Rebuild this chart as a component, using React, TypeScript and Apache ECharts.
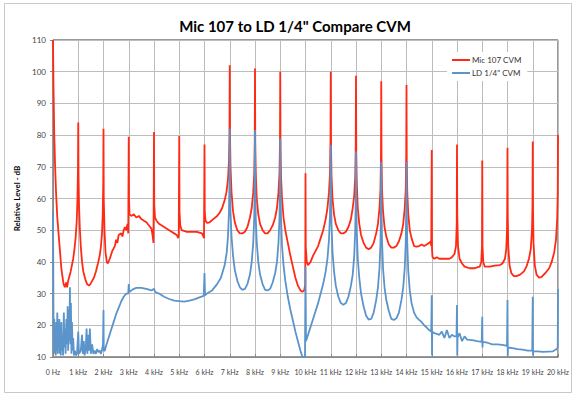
import React, { useEffect, useRef } from "react";
import * as echarts from "echarts";

const title = 'Mic 107 to LD 1/4" Compare CVM';
const yAxisName = "Relative Level - dB";
const seriesNames = ["Mic 107 CVM", "LD 1/4\" CVM"];
const xTicks = [0, 1, 2, 3, 4, 5, 6, 7, 8, 9, 10, 11, 12, 13, 14, 15, 16, 17, 18, 19, 20];

// [frequency kHz, level dB]
const mic107: [number, number][] = [
  [0, 110], [0.02, 95], [0.05, 80], [0.08, 71], [0.12, 62], [0.17, 54], [0.22, 49], [0.28, 43], [0.33, 38],
  [0.38, 35], [0.42, 33], [0.47, 32], [0.52, 33.5], [0.56, 32], [0.6, 34], [0.65, 35.5], [0.7, 37], [0.75, 39],
  [0.8, 41], [0.85, 44], [0.9, 48], [0.94, 53], [0.97, 60], [0.99, 70], [1.0, 84], [1.01, 68], [1.03, 58],
  [1.06, 51], [1.1, 45], [1.15, 40], [1.2, 37], [1.28, 34.5], [1.35, 33], [1.42, 32.5], [1.48, 33], [1.55, 34],
  [1.62, 35], [1.7, 37], [1.78, 39.5], [1.85, 42], [1.9, 45], [1.94, 49], [1.97, 55], [1.99, 65], [2.0, 82],
  [2.01, 60], [2.04, 50], [2.08, 43], [2.13, 40], [2.17, 39.5], [2.25, 41], [2.35, 43.5], [2.45, 45], [2.5, 47],
  [2.55, 46], [2.6, 48.5], [2.7, 49], [2.75, 48], [2.8, 50], [2.85, 51], [2.9, 50], [2.95, 52], [2.98, 49],
  [3.0, 79.5], [3.01, 60], [3.03, 55], [3.1, 54.5], [3.2, 55], [3.3, 54], [3.4, 54.5], [3.5, 53.5], [3.6, 53],
  [3.7, 52.5], [3.8, 51.5], [3.9, 50.5], [3.95, 48], [3.98, 46], [4.0, 81], [4.01, 58], [4.04, 54], [4.1, 53],
  [4.2, 52], [4.4, 51], [4.6, 50], [4.8, 49], [4.9, 48.5], [4.96, 47.5], [4.98, 48.5], [5.0, 79.7], [5.01, 56],
  [5.04, 51.5], [5.1, 50], [5.3, 49.5], [5.5, 49.5], [5.7, 49.5], [5.9, 49], [5.96, 48], [5.98, 47.5], [6.0, 77],
  [6.01, 56], [6.04, 53], [6.1, 52.3], [6.2, 52.5], [6.35, 53.5], [6.5, 54.5], [6.6, 55.5], [6.7, 57], [6.8, 59.5],
  [6.87, 62], [6.93, 66], [6.97, 72], [6.99, 80], [7.0, 102], [7.01, 80], [7.03, 70], [7.07, 62], [7.13, 56],
  [7.2, 52.5], [7.3, 50], [7.4, 49], [7.5, 49], [7.6, 49.5], [7.7, 51], [7.8, 54], [7.87, 57], [7.93, 62],
  [7.97, 68], [7.99, 78], [8.0, 101], [8.01, 78], [8.03, 68], [8.07, 60], [8.13, 55], [8.2, 52], [8.3, 50],
  [8.4, 49], [8.5, 49], [8.6, 50], [8.7, 51.5], [8.8, 54], [8.87, 57], [8.93, 62], [8.97, 68], [8.99, 78],
  [9.0, 100], [9.01, 77], [9.03, 67], [9.07, 60], [9.13, 54], [9.2, 50], [9.3, 46], [9.4, 42], [9.5, 38.5],
  [9.6, 35], [9.7, 32.5], [9.8, 31], [9.87, 30.6], [9.95, 31], [9.99, 33], [10.0, 68], [10.01, 45], [10.05, 40],
  [10.1, 39], [10.2, 40], [10.3, 42], [10.4, 43.5], [10.5, 45], [10.6, 47.5], [10.7, 50], [10.8, 53.5],
  [10.87, 57], [10.93, 62], [10.97, 68], [10.99, 78], [11.0, 100], [11.01, 77], [11.03, 67], [11.07, 60],
  [11.13, 55], [11.2, 52], [11.3, 50], [11.4, 49], [11.5, 49], [11.6, 49.5], [11.7, 51], [11.8, 53.5],
  [11.87, 57], [11.93, 61], [11.97, 67], [11.99, 77], [12.0, 98.7], [12.01, 75], [12.03, 65], [12.07, 57],
  [12.13, 52], [12.2, 48.5], [12.3, 46], [12.4, 44.5], [12.5, 44], [12.6, 44.5], [12.7, 46], [12.8, 49],
  [12.87, 52], [12.93, 57], [12.97, 63], [12.99, 74], [13.0, 97], [13.01, 73], [13.03, 63], [13.07, 56],
  [13.13, 51], [13.2, 48], [13.3, 45.5], [13.4, 44.5], [13.5, 44.5], [13.6, 45], [13.7, 46.5], [13.8, 49],
  [13.87, 52], [13.93, 57], [13.97, 63], [13.99, 74], [14.0, 95.8], [14.01, 72], [14.03, 62], [14.07, 55],
  [14.13, 50], [14.2, 47.5], [14.3, 45], [14.4, 44.8], [14.5, 45], [14.6, 45.5], [14.7, 45], [14.8, 45.5],
  [14.9, 46], [14.96, 46.5], [14.98, 45], [15.0, 75.3], [15.01, 44], [15.03, 41.5], [15.1, 41], [15.2, 41.5],
  [15.3, 41], [15.5, 41], [15.7, 41], [15.8, 41.5], [15.9, 42.5], [15.96, 45], [15.99, 52], [16.0, 77],
  [16.01, 55], [16.04, 45], [16.1, 41], [16.2, 39.5], [16.3, 38.5], [16.5, 38], [16.7, 38], [16.8, 38.3],
  [16.9, 38.5], [16.96, 40], [16.99, 45], [17.0, 72], [17.01, 45], [17.04, 40], [17.1, 38.5], [17.3, 38.5],
  [17.5, 38.8], [17.7, 39], [17.8, 39.5], [17.9, 41], [17.95, 44], [17.98, 50], [17.99, 58], [18.0, 76],
  [18.01, 55], [18.03, 45], [18.08, 39], [18.15, 36.5], [18.25, 35.5], [18.35, 35.5], [18.5, 36], [18.65, 37],
  [18.75, 38.5], [18.85, 41], [18.92, 44], [18.97, 50], [18.99, 58], [19.0, 78], [19.01, 57], [19.03, 46],
  [19.08, 39], [19.15, 36], [19.25, 35], [19.35, 35.3], [19.5, 36.5], [19.65, 38], [19.75, 40], [19.85, 43],
  [19.92, 47], [19.97, 54], [19.99, 62], [20.0, 80],
];

const ldQuarter: [number, number][] = [
  [0, 56], [0.01, 40], [0.02, 20], [0.03, 12], [0.05, 22], [0.07, 11], [0.09, 18], [0.11, 10.5], [0.13, 21],
  [0.15, 12], [0.17, 24], [0.19, 11], [0.21, 19], [0.23, 14], [0.25, 22], [0.27, 11], [0.29, 16], [0.31, 10.5],
  [0.33, 21], [0.35, 12], [0.37, 17], [0.4, 10.5], [0.43, 24], [0.45, 13], [0.48, 19], [0.5, 11], [0.53, 22],
  [0.56, 14], [0.58, 26], [0.6, 12], [0.63, 25], [0.65, 15], [0.67, 32], [0.69, 14], [0.71, 27], [0.73, 11],
  [0.75, 21], [0.78, 12], [0.8, 16], [0.83, 10.5], [0.87, 12], [0.9, 10.5], [0.95, 11], [1.0, 18], [1.03, 11],
  [1.1, 12], [1.15, 17], [1.18, 11], [1.22, 15], [1.25, 10.5], [1.3, 13], [1.33, 19], [1.36, 11], [1.4, 17],
  [1.43, 12], [1.46, 19], [1.5, 11], [1.55, 14], [1.6, 11], [1.65, 12], [1.7, 11], [1.75, 12.5], [1.8, 11.5],
  [1.85, 12], [1.9, 11], [1.95, 12.5], [1.98, 14], [2.0, 24.8], [2.01, 12], [2.05, 12], [2.1, 13.5], [2.2, 16],
  [2.3, 18.5], [2.4, 21], [2.5, 23.5], [2.6, 25.5], [2.7, 27.5], [2.8, 29], [2.9, 30], [2.98, 30], [3.0, 33],
  [3.02, 30.5], [3.1, 31], [3.2, 31.5], [3.3, 31.8], [3.5, 31.8], [3.7, 31.5], [3.9, 31], [4.0, 31.5],
  [4.05, 30.5], [4.2, 30], [4.4, 29], [4.6, 28.3], [4.8, 27.8], [5.0, 27.6], [5.2, 27.5], [5.4, 27.8],
  [5.6, 28.2], [5.8, 28.8], [5.97, 29.3], [6.0, 36.5], [6.02, 29.5], [6.1, 30], [6.3, 31], [6.5, 33], [6.65, 35],
  [6.8, 39], [6.88, 43], [6.93, 48], [6.97, 56], [6.99, 66], [7.0, 82], [7.01, 66], [7.03, 56], [7.07, 48],
  [7.13, 42], [7.2, 37.5], [7.3, 34], [7.4, 32], [7.5, 31.2], [7.6, 31.5], [7.7, 33], [7.8, 36], [7.87, 40],
  [7.93, 46], [7.97, 54], [7.99, 65], [8.0, 81.6], [8.01, 65], [8.03, 54], [8.07, 46], [8.13, 40], [8.2, 36],
  [8.3, 33], [8.4, 31.2], [8.5, 31], [8.6, 31.5], [8.7, 33.5], [8.8, 36.5], [8.87, 40], [8.93, 46], [8.97, 54],
  [8.99, 64], [9.0, 79], [9.01, 64], [9.03, 54], [9.07, 45], [9.13, 39], [9.2, 34], [9.3, 29], [9.4, 25],
  [9.5, 21.5], [9.6, 18], [9.7, 15], [9.8, 12], [9.88, 10], [9.98, 10], [10.0, 38.5], [10.02, 15], [10.1, 17],
  [10.2, 19.5], [10.3, 22], [10.4, 24.5], [10.5, 27], [10.6, 30], [10.7, 33], [10.8, 37], [10.87, 41],
  [10.93, 47], [10.97, 55], [10.99, 64], [11.0, 76.9], [11.01, 62], [11.03, 52], [11.07, 43], [11.13, 37],
  [11.2, 32.5], [11.3, 29], [11.4, 27], [11.5, 26.5], [11.6, 27], [11.7, 29], [11.8, 32.5], [11.87, 36],
  [11.93, 42], [11.97, 50], [11.99, 60], [12.0, 74.8], [12.01, 60], [12.03, 50], [12.07, 41], [12.13, 35],
  [12.2, 30], [12.3, 26], [12.4, 23], [12.5, 21.8], [12.6, 22], [12.7, 24], [12.8, 28], [12.87, 32], [12.93, 38],
  [12.97, 46], [12.99, 57], [13.0, 71.6], [13.01, 57], [13.03, 47], [13.07, 38], [13.13, 32], [13.2, 28],
  [13.3, 24.5], [13.4, 22], [13.5, 21.7], [13.6, 22.2], [13.7, 24], [13.8, 28], [13.87, 32], [13.93, 38],
  [13.97, 46], [13.99, 57], [14.0, 71.6], [14.01, 56], [14.03, 46], [14.07, 37], [14.13, 31], [14.2, 27],
  [14.3, 24], [14.4, 22.5], [14.5, 21.7], [14.6, 21], [14.7, 20], [14.8, 19.3], [14.9, 18.5], [14.98, 18],
  [15.0, 29.5], [15.01, 10.5], [15.02, 18], [15.1, 17.5], [15.2, 17.3], [15.3, 17], [15.4, 18], [15.5, 16],
  [15.6, 18.5], [15.7, 16], [15.8, 17], [15.9, 16.5], [15.98, 16.5], [16.0, 26.4], [16.01, 10.5], [16.02, 16],
  [16.1, 17.5], [16.2, 15], [16.3, 16.5], [16.4, 15.5], [16.6, 15.3], [16.8, 15], [16.98, 14.8], [17.0, 22.7],
  [17.01, 13], [17.02, 14.8], [17.2, 14.5], [17.4, 14], [17.6, 14], [17.8, 13.8], [17.98, 13.5], [18.0, 28],
  [18.01, 10.3], [18.02, 13], [18.2, 12.8], [18.4, 12.5], [18.6, 12.3], [18.8, 12], [18.98, 12], [19.0, 29],
  [19.01, 10.5], [19.02, 11.8], [19.2, 11.8], [19.4, 11.6], [19.6, 11.7], [19.8, 11.8], [19.95, 12.5],
  [19.99, 13], [20.0, 31.4],
];

const FONT = "Lato, 'Open Sans', sans-serif";

export default function App() {
  const ref = useRef<HTMLDivElement>(null);
  useEffect(() => {
    document.body.style.margin = "0";
    if (!ref.current) return;
    const chart = echarts.init(ref.current, undefined, { renderer: "svg" });
    chart.setOption({
      animation: false,
      backgroundColor: "#ffffff",
      textStyle: { fontFamily: FONT },
      title: {
        text: title,
        left: 290,
        textAlign: "center",
        top: 13,
        textStyle: { fontSize: 15, fontWeight: "bold", color: "#000", fontFamily: FONT },
      },
      graphic: [
        {
          type: "rect",
          shape: { x: 4.5, y: 3.5, width: 567, height: 389 },
          style: { fill: "none", stroke: "#c8c8c8", lineWidth: 1 },
          silent: true,
        },
      ],
      legend: {
        data: seriesNames,
        orient: "vertical",
        left: 447,
        top: 52,
        backgroundColor: "#ffffff",
        padding: [4, 6, 4, 5],
        itemGap: 5,
        itemWidth: 18,
        itemHeight: 2,
        icon: "rect",
        textStyle: { fontSize: 8, color: "#333", fontFamily: FONT, padding: [0, 0, 0, -3] },
      },
      grid: {
        left: 53,
        right: 18,
        top: 40,
        bottom: 40,
        show: true,
        borderColor: "#333",
        borderWidth: 1,
      },
      xAxis: {
        type: "value",
        min: 0,
        max: 20,
        interval: 1,
        axisLine: { lineStyle: { color: "#888" } },
        axisTick: { show: true, inside: true, length: 3, lineStyle: { color: "#888" } },
        splitLine: { show: true, lineStyle: { color: "#bdbdbd", width: 1 } },
        axisLabel: {
          fontSize: 7,
          color: "#444",
          margin: 11,
          fontFamily: FONT,
          hideOverlap: false,
          formatter: (v: number) => (xTicks.includes(v) ? (v === 0 ? "0 Hz" : `${v} kHz`) : ""),
        },
      },
      yAxis: {
        type: "value",
        min: 10,
        max: 110,
        interval: 10,
        name: yAxisName,
        nameLocation: "middle",
        nameGap: 30,
        nameTextStyle: { fontSize: 8, fontWeight: "bold", color: "#000", fontFamily: FONT },
        axisLine: { show: true, lineStyle: { color: "#888" } },
        axisTick: { show: true, length: 3, lineStyle: { color: "#888" } },
        splitLine: { show: true, lineStyle: { color: "#bdbdbd", width: 1 } },
        axisLabel: { fontSize: 8, color: "#444", margin: 7, fontFamily: FONT },
      },
      series: [
        {
          name: seriesNames[0],
          type: "line",
          data: mic107,
          showSymbol: false,
          symbol: "none",
          lineStyle: { color: "#ff2a14", width: 1.8 },
          itemStyle: { color: "#ff2a14" },
          z: 2,
        },
        {
          name: seriesNames[1],
          type: "line",
          data: ldQuarter,
          showSymbol: false,
          symbol: "none",
          lineStyle: { color: "#5a94cb", width: 1.8 },
          itemStyle: { color: "#5a94cb" },
          z: 3,
        },
      ],
    });
    return () => chart.dispose();
  }, []);
  return <div ref={ref} style={{ width: 576, height: 397 }} />;
}
